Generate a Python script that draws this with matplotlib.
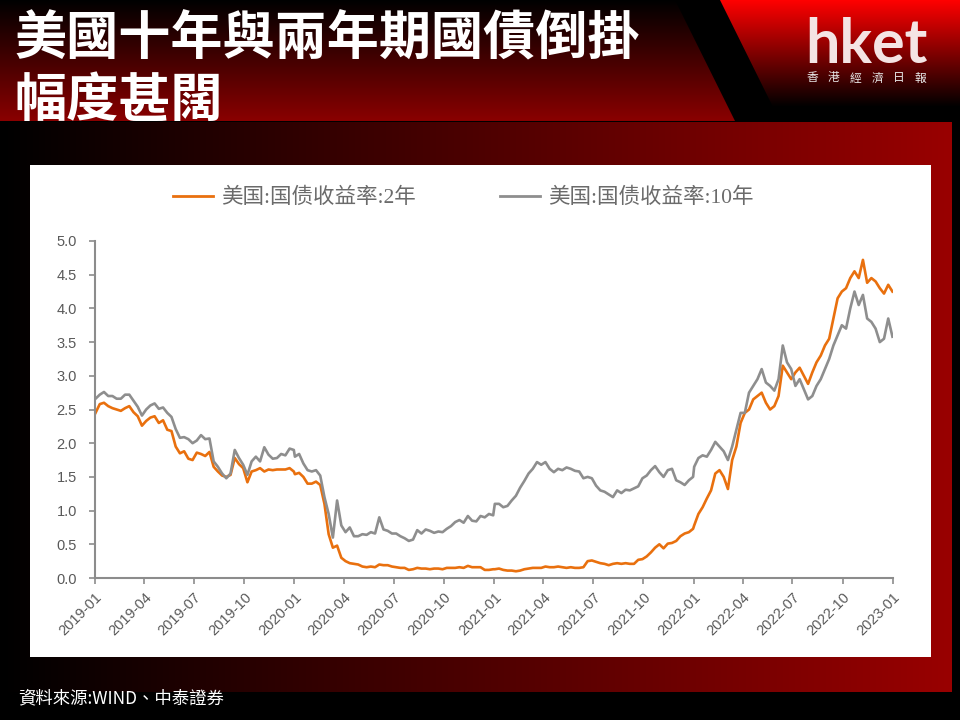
import numpy as np
import pandas as pd
import matplotlib
matplotlib.use('Agg')
import matplotlib.pyplot as plt
import matplotlib.dates as mdates
from matplotlib.patches import Polygon, Rectangle
from matplotlib.lines import Line2D

plt.rcParams['font.family'] = ['Liberation Sans', 'Noto Sans CJK TC', 'DejaVu Sans']

title_lines = ['美國十年與兩年期國債倒掛', '幅度甚闊']
legend_labels = ['美国:国债收益率:2年', '美国:国债收益率:10年']
source_text = '資料來源:WIND、中泰證券'
brand = 'hket'
brand_sub = '香港經濟日報'

years = [2019, 2020, 2021, 2022]
yticks = [0.0, 0.5, 1.0, 1.5, 2.0, 2.5, 3.0, 3.5, 4.0, 4.5, 5.0]

# four readings per month, Jan..Dec
y2_2019 = [2.45, 2.58, 2.60, 2.55, 2.52, 2.50, 2.48, 2.52,
           2.55, 2.46, 2.40, 2.26, 2.33, 2.38, 2.40, 2.30,
           2.34, 2.20, 2.18, 1.95, 1.85, 1.88, 1.77, 1.75,
           1.86, 1.84, 1.81, 1.87, 1.65, 1.58, 1.52, 1.50,
           1.53, 1.78, 1.69, 1.63, 1.42, 1.58, 1.60, 1.63,
           1.58, 1.61, 1.60, 1.61, 1.61, 1.61, 1.63, 1.58]
y2_2020 = [1.54, 1.56, 1.50, 1.40, 1.40, 1.43, 1.38, 1.10,
           0.65, 0.45, 0.48, 0.30, 0.25, 0.22, 0.21, 0.20,
           0.17, 0.16, 0.17, 0.16, 0.20, 0.19, 0.19, 0.17,
           0.16, 0.15, 0.15, 0.12, 0.13, 0.15, 0.14, 0.14,
           0.13, 0.14, 0.14, 0.13, 0.15, 0.15, 0.15, 0.16,
           0.15, 0.18, 0.16, 0.16, 0.16, 0.12, 0.12, 0.13]
y2_2021 = [0.13, 0.14, 0.12, 0.11, 0.11, 0.10, 0.11, 0.13,
           0.14, 0.15, 0.15, 0.15, 0.17, 0.16, 0.16, 0.17,
           0.16, 0.15, 0.16, 0.15, 0.15, 0.16, 0.25, 0.26,
           0.24, 0.22, 0.21, 0.19, 0.21, 0.22, 0.21, 0.22,
           0.21, 0.21, 0.27, 0.28, 0.32, 0.38, 0.45, 0.50,
           0.44, 0.51, 0.52, 0.55, 0.62, 0.66, 0.68, 0.73]
y2_2022 = [0.78, 0.95, 1.05, 1.18, 1.30, 1.55, 1.60, 1.50,
           1.32, 1.75, 1.95, 2.30, 2.45, 2.50, 2.65, 2.70,
           2.75, 2.60, 2.50, 2.55, 2.70, 3.15, 3.05, 2.95,
           3.05, 3.12, 3.00, 2.88, 3.05, 3.20, 3.30, 3.45,
           3.55, 3.85, 4.15, 4.25, 4.30, 4.45, 4.55, 4.45,
           4.72, 4.38, 4.45, 4.40, 4.30, 4.22, 4.35, 4.25]

y10_2019 = [2.66, 2.72, 2.76, 2.70, 2.70, 2.66, 2.66, 2.72,
            2.72, 2.63, 2.54, 2.41, 2.50, 2.56, 2.59, 2.51,
            2.53, 2.45, 2.39, 2.21, 2.08, 2.09, 2.06, 2.00,
            2.04, 2.12, 2.06, 2.07, 1.73, 1.65, 1.55, 1.48,
            1.55, 1.90, 1.78, 1.68, 1.53, 1.73, 1.80, 1.73,
            1.94, 1.83, 1.77, 1.78, 1.84, 1.82, 1.92, 1.90]
y10_2020 = [1.80, 1.84, 1.70, 1.60, 1.58, 1.60, 1.52, 1.20,
            0.95, 0.60, 1.15, 0.78, 0.68, 0.75, 0.62, 0.62,
            0.65, 0.64, 0.68, 0.66, 0.90, 0.72, 0.70, 0.66,
            0.66, 0.62, 0.59, 0.55, 0.57, 0.71, 0.66, 0.72,
            0.70, 0.67, 0.69, 0.68, 0.73, 0.77, 0.83, 0.86,
            0.82, 0.92, 0.85, 0.84, 0.92, 0.90, 0.95, 0.93]
y10_2021 = [1.10, 1.10, 1.05, 1.07, 1.15, 1.22, 1.34, 1.44,
            1.55, 1.62, 1.72, 1.68, 1.72, 1.62, 1.57, 1.62,
            1.60, 1.64, 1.62, 1.59, 1.58, 1.48, 1.50, 1.48,
            1.37, 1.30, 1.28, 1.24, 1.20, 1.30, 1.26, 1.31,
            1.30, 1.33, 1.36, 1.48, 1.52, 1.60, 1.66, 1.57,
            1.50, 1.60, 1.62, 1.45, 1.42, 1.38, 1.45, 1.50]
y10_2022 = [1.65, 1.78, 1.82, 1.80, 1.90, 2.02, 1.95, 1.88,
            1.75, 1.95, 2.20, 2.45, 2.45, 2.75, 2.85, 2.95,
            3.10, 2.90, 2.85, 2.78, 2.95, 3.45, 3.20, 3.10,
            2.85, 2.95, 2.80, 2.65, 2.70, 2.85, 2.95, 3.10,
            3.25, 3.45, 3.60, 3.75, 3.70, 4.00, 4.25, 4.05,
            4.20, 3.85, 3.80, 3.70, 3.50, 3.55, 3.85, 3.58]

y2 = y2_2019 + y2_2020 + y2_2021 + y2_2022
y10 = y10_2019 + y10_2020 + y10_2021 + y10_2022
dates = []
for yr in years:
    start = pd.Timestamp(f'{yr}-01-02')
    dates += [start + pd.Timedelta(days=i * 363 / 47) for i in range(48)]

c2 = '#e9700e'
c10 = '#8e8e8e'

fig = plt.figure(figsize=(9.6, 7.2), dpi=100, facecolor='black')

# background decoration, pixel coords
bg = fig.add_axes([0, 0, 1, 1])
bg.set_xlim(0, 960)
bg.set_ylim(720, 0)
bg.axis('off')

def grad_fill(ax, poly, c_from, c_to, horizontal=False, extent=None):
    c_from = np.array(matplotlib.colors.to_rgb(c_from))
    c_to = np.array(matplotlib.colors.to_rgb(c_to))
    t = np.linspace(0, 1, 256)
    if horizontal:
        img = (c_from + (c_to - c_from) * t[:, None])[None, :, :]
    else:
        img = (c_from + (c_to - c_from) * t[:, None])[:, None, :]
    patch = Polygon(poly, closed=True, facecolor='none', edgecolor='none')
    ax.add_patch(patch)
    im = ax.imshow(img, extent=extent, origin='upper', aspect='auto',
                   interpolation='bilinear')
    im.set_clip_path(patch)

grad_fill(bg, [(0, 0), (675, 0), (735, 121), (0, 121)],
          '#000000', '#8a0000', extent=(0, 735, 121, 0))
grad_fill(bg, [(720, 0), (960, 0), (960, 107), (773, 107)],
          '#ff0000', '#000000', extent=(720, 960, 107, 0))
grad_fill(bg, [(0, 122), (952, 122), (952, 692), (0, 692)],
          '#000000', '#990000', horizontal=True, extent=(0, 952, 692, 122))
bg.add_patch(Rectangle((30, 165), 901, 492, facecolor='white', edgecolor='none'))

bg.text(14, 39, title_lines[0], color='white', fontsize=37.5, fontweight='bold',
        family=['Noto Sans CJK TC'], va='center', ha='left')
bg.text(14, 100, title_lines[1], color='white', fontsize=37.5, fontweight='bold',
        family=['Noto Sans CJK TC'], va='center', ha='left')

bg.text(866, 63, brand, color='#f4e4e4', fontsize=44, fontweight='bold',
        family=['Lato', 'DejaVu Sans'], ha='center', va='baseline')
for i, ch in enumerate(brand_sub):
    bg.text(812 + i * 21.7, 78, ch, color='#e8e8e8', fontsize=8.5,
            family=['Noto Sans CJK TC'], ha='center', va='center')

bg.text(18, 698, source_text, color='white', fontsize=12.5,
        family=['Noto Sans CJK TC', 'DejaVu Sans'], ha='left', va='center')

# chart
ax = fig.add_axes([95 / 960, 1 - 578 / 720, (893 - 95) / 960, (578 - 241) / 720])
ax.set_facecolor('none')
ax.plot(dates, y2, color=c2, lw=1.9, label=legend_labels[0])
ax.plot(dates, y10, color=c10, lw=1.9, label=legend_labels[1])

ax.set_xlim(pd.Timestamp('2019-01-01'), pd.Timestamp('2023-01-01'))
ax.set_ylim(0, 5)
ax.set_yticks(yticks)
ax.yaxis.set_major_formatter(matplotlib.ticker.FormatStrFormatter('%.1f'))
ax.xaxis.set_major_locator(mdates.MonthLocator(bymonth=[1, 4, 7, 10]))
ax.xaxis.set_major_formatter(mdates.DateFormatter('%Y-%m'))

for s in ['top', 'right']:
    ax.spines[s].set_visible(False)
for s in ['left', 'bottom']:
    ax.spines[s].set_color('#8c8c8c')
    ax.spines[s].set_linewidth(1.5)
ax.tick_params(axis='both', colors='#8c8c8c', labelcolor='#595959',
               length=4, width=1.2, labelsize=10.5)
ax.tick_params(axis='y', pad=9)
ax.tick_params(axis='x', pad=5)
for lab in ax.get_xticklabels():
    lab.set_rotation(45)
    lab.set_ha('right')
    lab.set_rotation_mode('anchor')

handles = [Line2D([], [], color=c2, lw=2), Line2D([], [], color=c10, lw=2)]
ax.legend(handles, legend_labels, loc='center',
          bbox_to_anchor=(463 / 960, 1 - 198 / 720), bbox_transform=fig.transFigure,
          ncol=2, frameon=False, labelcolor='#6b6b6b',
          prop={'family': ['Liberation Serif', 'Noto Sans CJK SC'], 'size': 15.5},
          handlelength=1.86, handletextpad=0.37, columnspacing=3.9)

fig.savefig('out.png', dpi=100, facecolor='black')
